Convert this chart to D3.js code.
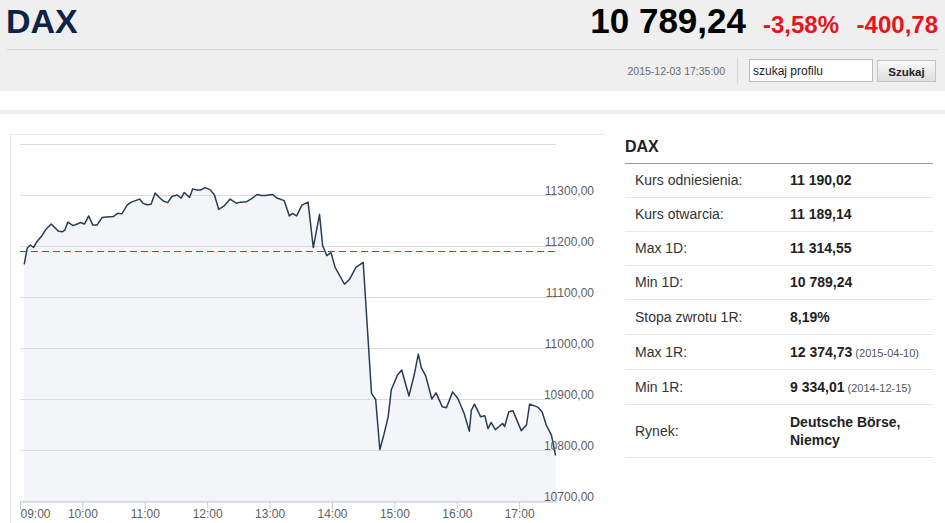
<!DOCTYPE html>
<html>
<head>
<meta charset="utf-8">
<script src="https://cdn.jsdelivr.net/npm/d3@7"></script>
<style>
  body { margin: 0; background: #fff; font-family: "Liberation Sans", Arial, sans-serif; }
</style>
</head>
<body>
<div class="page"></div>
<script>
// intraday DAX quotes, 2015-12-03
const times = ["09:04","09:07","09:10","09:13","09:16","09:21","09:25","09:30","09:33","09:37",
  "09:41","09:43","09:46","09:51","09:55","09:58","10:02","10:06","10:10","10:14",
  "10:19","10:23","10:30","10:34","10:38","10:43","10:47","10:51","10:55","10:58",
  "11:02","11:06","11:10","11:14","11:18","11:22","11:26","11:31","11:35","11:38",
  "11:43","11:46","11:50","11:54","11:58","12:03","12:07","12:11","12:16","12:22",
  "12:28","12:32","12:38","12:42","12:48","12:52","12:56","12:59","13:03","13:07",
  "13:14","13:19","13:22","13:26","13:31","13:37","13:42","13:48","13:51","13:55",
  "13:59","14:03","14:12","14:17","14:23","14:30","14:38","14:42","14:46","14:50",
  "14:54","14:57","15:03","15:07","15:14","15:19","15:23","15:26","15:30","15:36",
  "15:40","15:46","15:50","15:56","16:01","16:07","16:12","16:14","16:17","16:23",
  "16:27","16:30","16:33","16:37","16:44","16:46","16:50","16:54","17:02","17:07",
  "17:10","17:18","17:22","17:26","17:31","17:35"];
const prices = [11164,11196,11202,11197,11208,11220,11233,11243,11237,11229,
  11228,11231,11247,11240,11243,11246,11243,11259,11241,11241,
  11256,11257,11258,11264,11263,11280,11286,11289,11292,11284,
  11281,11282,11304,11295,11288,11285,11297,11300,11294,11305,
  11295,11312,11310,11310,11314.55,11310,11300,11272,11278,11292,
  11284,11286,11287,11292,11301,11299,11299,11300,11301,11294,
  11289,11259,11264,11259,11280,11286,11197,11262,11201,11181,
  11187,11158,11125,11135,11158,11168,10911,10899,10801,10831,
  10865,10918,10947,10957,10906,10947,10988,10961,10946,10900,
  10912,10885,10883,10914,10901,10872,10837,10878,10890,10865,
  10867,10842,10854,10840,10852,10846,10875,10877,10838,10849,
  10890,10884,10875,10849,10829,10789.24];
const referencePrice = 11190.02;
const yTicks = [10700, 10800, 10900, 11000, 11100, 11200, 11300, 11400];
const xTicks = ["09:00","10:00","11:00","12:00","13:00","14:00","15:00","16:00","17:00"];

// side table
const rowLabels = ["Kurs odniesienia:", "Kurs otwarcia:", "Max 1D:", "Min 1D:", "Stopa zwrotu 1R:", "Max 1R:", "Min 1R:", "Rynek:"];
const rowValues = ["11 190,02", "11 189,14", "11 314,55", "10 789,24", "8,19%", "12 374,73", "9 334,01", "Deutsche Börse,|Niemcy"];
const rowNotes = ["", "", "", "", "", "(2015-04-10)", "(2014-12-15)", ""];

const width = 945;
const height = 523;
const parse = d3.timeParse("%H:%M");
const data = times.map((t, i) => ({ t: parse(t), v: prices[i] }));

const svg = d3.select(".page").append("svg")
  .attr("width", width)
  .attr("height", height)
  .style("display", "block");

// ---- header
svg.append("rect").attr("x", 0).attr("y", 0).attr("width", width).attr("height", 91).attr("fill", "#efefef");
svg.append("line").attr("x1", 7).attr("x2", 938).attr("y1", 49.5).attr("y2", 49.5).attr("stroke", "#d6d6d6");
svg.append("rect").attr("x", 0).attr("y", 110).attr("width", width).attr("height", 4).attr("fill", "#efefef");

svg.append("text").attr("x", 6).attr("y", 33)
  .text("DAX")
  .style("font-size", "34px").style("font-weight", "bold").style("fill", "#0f2444");

svg.append("text").attr("x", 746).attr("y", 33)
  .attr("text-anchor", "end")
  .text("10 789,24")
  .style("font-size", "35px").style("font-weight", "bold").style("fill", "#000");

svg.append("text").attr("x", 763).attr("y", 33)
  .text("-3,58%")
  .style("font-size", "24px").style("font-weight", "bold").style("fill", "#e8141c");

svg.append("text").attr("x", 938).attr("y", 33)
  .attr("text-anchor", "end")
  .text("-400,78")
  .style("font-size", "24px").style("font-weight", "bold").style("fill", "#e8141c");

svg.append("text").attr("x", 725).attr("y", 75)
  .attr("text-anchor", "end")
  .text("2015-12-03 17:35:00")
  .style("font-size", "10.5px").style("fill", "#6a6a6a");

svg.append("line").attr("x1", 737.5).attr("x2", 737.5).attr("y1", 57).attr("y2", 84).attr("stroke", "#d6d6d6");

// search box + button
svg.append("rect").attr("x", 749.5).attr("y", 59.5).attr("width", 123).attr("height", 22)
  .attr("fill", "#fff").attr("stroke", "#bbb");
svg.append("text").attr("x", 753).attr("y", 75)
  .text("szukaj profilu")
  .style("font-size", "12px").style("fill", "#222");

const grad = svg.append("defs").append("linearGradient")
  .attr("id", "btn").attr("x1", 0).attr("x2", 0).attr("y1", 0).attr("y2", 1);
grad.append("stop").attr("offset", "0%").attr("stop-color", "#fbfbfb");
grad.append("stop").attr("offset", "100%").attr("stop-color", "#dcdcdc");
svg.append("rect").attr("x", 877.5).attr("y", 60.5).attr("width", 58).attr("height", 21)
  .attr("fill", "url(#btn)").attr("stroke", "#c4c4c4");
svg.append("text").attr("x", 906.5).attr("y", 76)
  .attr("text-anchor", "middle")
  .text("Szukaj")
  .style("font-size", "11.5px").style("font-weight", "bold").style("fill", "#222");

// ---- chart box
svg.append("line").attr("x1", 10).attr("x2", 604).attr("y1", 134.5).attr("y2", 134.5).attr("stroke", "#eaeaea");
svg.append("line").attr("x1", 10.5).attr("x2", 10.5).attr("y1", 134).attr("y2", height).attr("stroke", "#e6e6e6");

const x = d3.scaleTime()
  .domain([parse("09:00"), parse("17:35")])
  .range([20, 555.6]);

const y = d3.scaleLinear()
  .domain([10700, 11400])
  .range([501, 144]);

// area under the line
const area = d3.area()
  .x(d => x(d.t))
  .y0(y(10700))
  .y1(d => y(d.v));

svg.append("path")
  .datum(data)
  .attr("d", area)
  .attr("fill", "#f4f5f8");

// grid
svg.append("g")
  .selectAll("line")
  .data(yTicks)
  .enter()
  .append("line")
  .attr("x1", 20)
  .attr("x2", 556)
  .attr("y1", d => Math.round(y(d)) + 0.5)
  .attr("y2", d => Math.round(y(d)) + 0.5)
  .attr("stroke", "#dcdcdc");

// reference price
svg.append("line")
  .attr("x1", 20).attr("x2", 556)
  .attr("y1", Math.round(y(referencePrice)) + 0.5)
  .attr("y2", Math.round(y(referencePrice)) + 0.5)
  .attr("stroke", "#d92b2b")
  .attr("stroke-width", 1.2)
  .attr("stroke-dasharray", "7,4");

// price line
const line = d3.line()
  .x(d => x(d.t))
  .y(d => y(d.v));

svg.append("path")
  .datum(data)
  .attr("d", line)
  .attr("fill", "none")
  .attr("stroke", "#2a3b58")
  .attr("stroke-width", 1.5)
  .attr("stroke-linejoin", "round");

// y labels (right side, sitting on the gridline)
svg.append("g")
  .selectAll("text")
  .data(yTicks.filter(d => d < 11400))
  .enter()
  .append("text")
  .attr("x", 594)
  .attr("y", d => y(d) - 0.5)
  .attr("text-anchor", "end")
  .text(d => d3.format(".2f")(d).replace(".", ","))
  .style("font-size", "12px")
  .style("fill", "#606060");

// x axis
const xAxis = d3.axisBottom(x)
  .tickValues(xTicks.map(parse))
  .tickSize(8)
  .tickSizeOuter(0)
  .tickFormat(d3.timeFormat("%H:%M"));

const gx = svg.append("g")
  .attr("transform", `translate(0,${Math.round(y(10700)) + 0.5})`)
  .call(xAxis);
gx.select(".domain").attr("stroke", "#c0d0e0");
gx.selectAll(".tick line").attr("stroke", "#c0d0e0");
gx.selectAll(".tick text")
  .attr("y", 16)
  .attr("dy", "0")
  .style("font-family", "\"Liberation Sans\", Arial, sans-serif")
  .style("font-size", "12px")
  .style("fill", "#606060");
gx.selectAll(".tick text").filter((d, i) => i === 0)
  .attr("text-anchor", "start");

// ---- side table
svg.append("text").attr("x", 625).attr("y", 152)
  .text("DAX")
  .style("font-size", "16px").style("font-weight", "bold").style("fill", "#222");
svg.append("line").attr("x1", 625).attr("x2", 933).attr("y1", 163.5).attr("y2", 163.5).attr("stroke", "#9a9a9a");

const rowTops = [163, 197, 231, 265, 299, 334, 369, 404];
const rowBottoms = [197, 231, 265, 299, 334, 369, 404, 457];

const rows = svg.append("g")
  .selectAll("g")
  .data(rowLabels)
  .enter()
  .append("g");

rows.append("line")
  .attr("x1", 625).attr("x2", 933)
  .attr("y1", (d, i) => rowBottoms[i] + 0.5)
  .attr("y2", (d, i) => rowBottoms[i] + 0.5)
  .attr("stroke", "#e8e8e8");

rows.append("text")
  .attr("x", 635)
  .attr("y", (d, i) => (rowTops[i] + rowBottoms[i]) / 2 + 5)
  .text(d => d)
  .style("font-size", "14px")
  .style("fill", "#333");

rows.each(function (d, i) {
  const g = d3.select(this);
  const parts = rowValues[i].split("|");
  const mid = (rowTops[i] + rowBottoms[i]) / 2;
  const t = g.append("text")
    .attr("x", 790)
    .style("font-size", "14px")
    .style("font-weight", "bold")
    .style("fill", "#222");
  parts.forEach((p, k) => {
    t.append("tspan")
      .attr("x", 790)
      .attr("y", mid + 5 + (k - (parts.length - 1) / 2) * 18)
      .text(p);
  });
  if (rowNotes[i]) {
    t.append("tspan")
      .text(" " + rowNotes[i])
      .style("font-size", "11px")
      .style("font-weight", "normal")
      .style("fill", "#555");
  }
});
</script>
</body>
</html>
